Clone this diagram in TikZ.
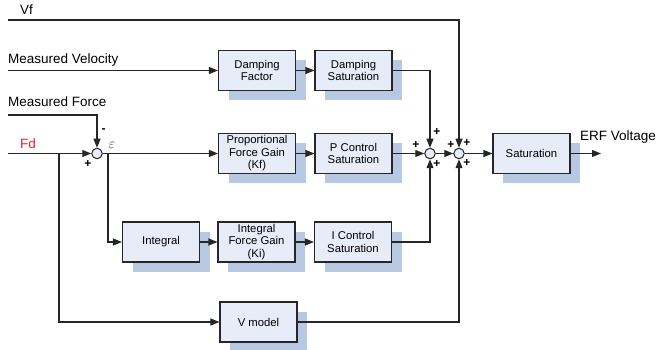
\documentclass[tikz,border=0pt]{standalone}
\usepackage{fontspec}
\setmainfont{Liberation Sans}
\usetikzlibrary{arrows.meta,shadows}
\definecolor{boxfill}{HTML}{E6ECF8}
\definecolor{shc}{HTML}{B7C9E2}
\definecolor{fdred}{HTML}{E8202A}
\begin{document}
\begin{tikzpicture}[x=1pt,y=-1pt,
 blk/.style={draw=black!85, line width=1.1pt, fill=boxfill, minimum width=77pt, minimum height=40pt, align=center, font=\fontsize{11.3}{12.5}\selectfont, inner sep=1pt, drop shadow={shadow xshift=10pt, shadow yshift=-10pt, fill=shc, opacity=1}},
 sum/.style={circle, draw=black!85, line width=1pt, fill=boxfill, minimum size=10.5pt, inner sep=0pt},
 ln/.style={line width=1.1pt, draw=black!85},
 arr/.style={ln, -{Triangle[length=9pt,width=7pt]}},
 lab/.style={font=\fontsize{13.5}{15}\selectfont, anchor=base west, inner sep=0pt},
 sg/.style={font=\bfseries\fontsize{12}{12}\selectfont, inner sep=0pt}]
\useasboundingbox (0,0) rectangle (657,350);
% blocks
\node[blk] (df) at (257,70.5) {Damping\\Factor};
\node[blk] (ds) at (353.5,70.5) {Damping\\Saturation};
\node[blk] (pf) at (257,153.5) {Proportional\\Force Gain\\(Kf)};
\node[blk] (ps) at (353.5,153.5) {P Control\\Saturation};
\node[blk] (int) at (161,242) {Integral};
\node[blk] (ig) at (256.5,242) {Integral\\Force Gain\\(Ki)};
\node[blk] (is) at (353,242) {I Control\\Saturation};
\node[blk] (vm) at (258.5,322) {V model};
\node[blk] (sat) at (531.5,153.5) {Saturation};
% summing junctions
\node[sum] (s0) at (97,153.5) {};
\node[sum] (s1) at (430,153.5) {};
\node[sum] (s2) at (459,153.5) {};
% free ends
\coordinate (vf0) at (8,20);
\coordinate (mv0) at (8,70.5);
\coordinate (mf0) at (8,115);
\coordinate (fd0) at (8,153.5);
\coordinate (bfd) at (59,153.5);
\coordinate (bint) at (108,153.5);
\coordinate (out) at (601,153.5);
% connectors
\draw[arr] (vf0) -| (s2.north);
\draw[arr] (mv0) -- (df.west);
\draw[arr] (df) -- (ds);
\draw[arr] (ds.east) -| (s1.north);
\draw[arr] (mf0) -| (s0.north);
\draw[arr] (fd0) -- (s0.west);
\draw[arr] (s0.east) -- (pf.west);
\draw[arr] (pf) -- (ps);
\draw[arr] (ps.east) -- (s1.west);
\draw[arr] (s1) -- (s2);
\draw[arr] (s2) -- (sat);
\draw[arr] (sat.east) -- (out);
\draw[arr] (bint) |- (int.west);
\draw[arr] (int) -- (ig);
\draw[arr] (ig) -- (is);
\draw[arr] (is.east) -| (s1.south);
\draw[arr] (bfd) |- (vm.west);
\draw[arr] (vm.east) -| (s2.south);
% labels
\node[lab] (lvf) at (20,15) {Vf};
\node[lab] (lmv) at (8,64) {Measured Velocity};
\node[lab] (lmf) at (8,107) {Measured Force};
\node[lab, text=fdred] (lfd) at (20,149) {Fd};
\node[lab] (lerf) at (580,141) {ERF Voltage};
\node[font=\fontsize{14}{14}\selectfont, inner sep=0pt, text=black!80] (eps) at (112,145.5) {$\varepsilon$};
% signs
\node[sg] (m0) at (103.5,130.5) {-};
\node[sg] (p0) at (88,164) {+};
\node[sg] (p1a) at (416,145) {+};
\node[sg] (p1b) at (437,132) {+};
\node[sg] (p1c) at (437,164) {+};
\node[sg] (p2a) at (451,145) {+};
\node[sg] (p2b) at (467,143) {+};
\node[sg] (p2c) at (467,163) {+};
\end{tikzpicture}
\end{document}
